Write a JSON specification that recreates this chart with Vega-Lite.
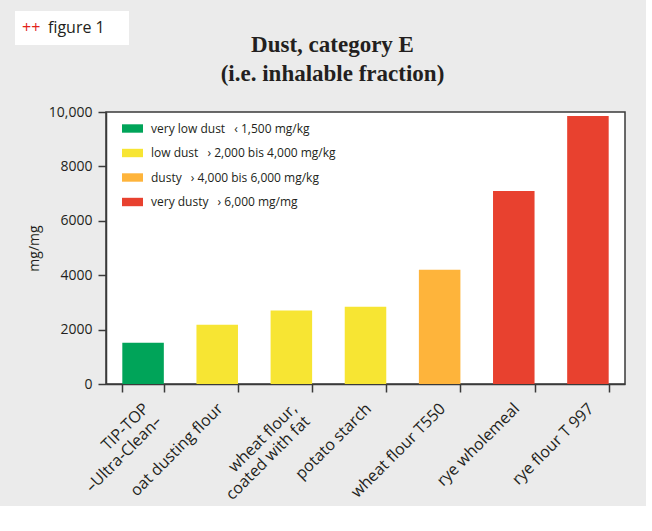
{
  "$schema": "https://vega.github.io/schema/vega-lite/v6.json",
  "background": "#ebebeb",
  "padding": {"left": 15, "top": 11, "right": 20, "bottom": 2},
  "spacing": -12,
  "resolve": {"scale": {"color": "independent", "x": "independent", "y": "independent"}},
  "config": {"font": "Open Sans", "view": {"stroke": null}},
  "vconcat": [
    {
      "width": 114,
      "height": 34,
      "view": {"fill": "white", "stroke": null},
      "data": {"values": [{"part": "++"}, {"part": "figure 1"}]},
      "mark": {"type": "text", "align": "left", "baseline": "middle", "fontSize": 16},
      "encoding": {
        "text": {"field": "part", "type": "nominal"},
        "x": {"field": "part", "type": "nominal", "sort": null, "scale": {"type": "point", "padding": 0, "range": [7, 33]}, "axis": null},
        "color": {"field": "part", "type": "nominal", "scale": {"domain": ["++", "figure 1"], "range": ["#e2231a", "#231f20"]}, "legend": null},
        "fontWeight": {"condition": {"test": "datum.part == '++'", "value": "bold"}, "value": "normal"}
      }
    },
    {
      "spacing": 0,
      "resolve": {"scale": {"color": "independent", "x": "independent", "y": "independent"}},
      "hconcat": [
        {
          "width": 11,
          "height": 272,
          "data": {"values": []},
          "mark": {"type": "point", "opacity": 0},
          "encoding": {}
        },
        {
          "width": 519,
          "height": 272,
          "title": {
            "text": ["Dust, category E", "(i.e. inhalable fraction)"],
            "font": "Liberation Serif",
            "fontSize": 23,
            "fontWeight": "bold",
            "color": "#231f20",
            "lineHeight": 29,
            "anchor": "middle",
            "offset": 19,
            "dx": -33
          },
          "view": {"fill": "white", "stroke": "#3a3a3a", "strokeWidth": 1.5},
          "data": {
            "values": [
              {"product": "TIP-TOP|–Ultra-Clean–", "dust": 1520, "category": "very low dust\u2002 ‹ 1,500 mg/kg"},
              {"product": "oat dusting flour", "dust": 2180, "category": "low dust\u2002 › 2,000 bis 4,000 mg/kg"},
              {"product": "wheat flour,|coated with fat", "dust": 2700, "category": "low dust\u2002 › 2,000 bis 4,000 mg/kg"},
              {"product": "potato starch", "dust": 2840, "category": "low dust\u2002 › 2,000 bis 4,000 mg/kg"},
              {"product": "wheat flour T550", "dust": 4200, "category": "dusty\u2002 › 4,000 bis 6,000 mg/kg"},
              {"product": "rye wholemeal", "dust": 7100, "category": "very dusty\u2002 › 6,000 mg/mg"},
              {"product": "rye flour T 997", "dust": 9850, "category": "very dusty\u2002 › 6,000 mg/mg"}
            ]
          },
          "mark": {"type": "bar"},
          "encoding": {
            "x": {
              "field": "product",
              "type": "nominal",
              "sort": null,
              "scale": {"paddingInner": 0.44, "paddingOuter": 0.22},
              "axis": {
                "title": null,
                "labelAngle": -45,
                "labelBaseline": "top",
                "labelExpr": "split(datum.label, '|')",
                "labelFontSize": 16,
                "labelColor": "#231f20",
                "labelPadding": 8,
                "labelOffset": -3,
                "labelLimit": 300,
                "tickBand": "extent",
                "tickSize": 8,
                "tickColor": "#3a3a3a",
                "tickWidth": 1.5,
                "domainColor": "#3a3a3a",
                "domainWidth": 1.5
              }
            },
            "y": {
              "field": "dust",
              "type": "quantitative",
              "scale": {"domain": [0, 10000]},
              "axis": {
                "title": "mg/mg",
                "titleFontSize": 14,
                "titleFontWeight": "normal",
                "titleColor": "#231f20",
                "titlePadding": 7,
                "values": [0, 2000, 4000, 6000, 8000, 10000],
                "labelExpr": "datum.value == 10000 ? '10,000' : '' + datum.value",
                "labelFontSize": 14,
                "labelColor": "#231f20",
                "labelPadding": 6,
                "grid": false,
                "tickSize": 8,
                "tickColor": "#3a3a3a",
                "tickWidth": 1.5,
                "domainColor": "#3a3a3a",
                "domainWidth": 1.5
              }
            },
            "color": {
              "field": "category",
              "type": "nominal",
              "scale": {
                "domain": [
                  "very low dust\u2002 ‹ 1,500 mg/kg",
                  "low dust\u2002 › 2,000 bis 4,000 mg/kg",
                  "dusty\u2002 › 4,000 bis 6,000 mg/kg",
                  "very dusty\u2002 › 6,000 mg/mg"
                ],
                "range": ["#00a459", "#f7e533", "#feb43b", "#e8412f"]
              },
              "legend": {
                "orient": "none",
                "legendX": 16,
                "legendY": 6,
                "title": null,
                "padding": 0,
                "symbolType": "M-1,-0.4H1V0.4H-1Z",
                "symbolSize": 441,
                "symbolStrokeWidth": 0,
                "symbolOpacity": 1,
                "labelFontSize": 12,
                "labelColor": "#231f20",
                "labelOffset": 8,
                "labelLimit": 300,
                "rowPadding": 7.5
              }
            }
          }
        }
      ]
    }
  ]
}
